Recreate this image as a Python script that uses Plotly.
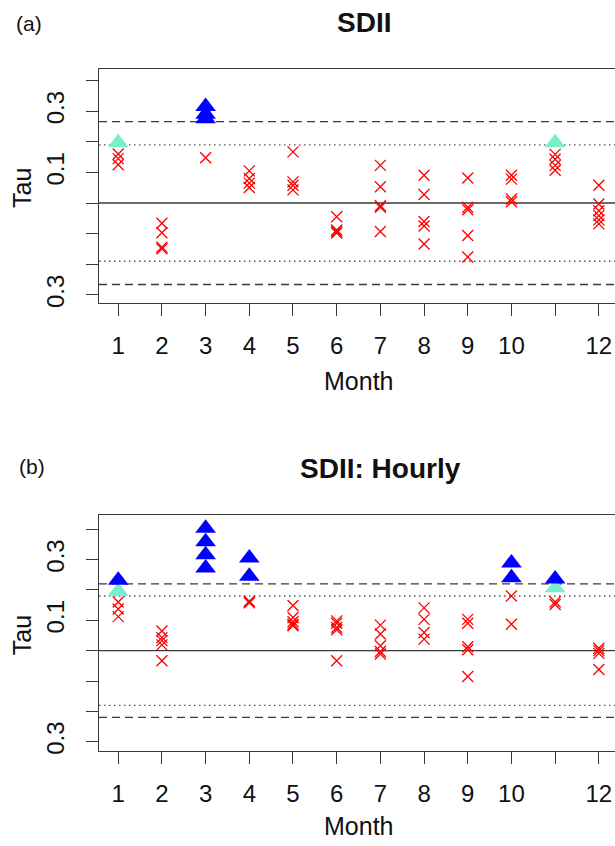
import plotly.graph_objects as go

# ---------------- data ----------------
months = list(range(1, 13))
month_labels = ["1", "2", "3", "4", "5", "6", "7", "8", "9", "10", "", "12"]
tau_ticks = [-0.3, -0.2, -0.1, 0.0, 0.1, 0.2, 0.3, 0.4]
tau_tick_labels = ["0.3", "", "", "", "0.1", "", "0.3", ""]

# Panel (a) SDII
sdii_ns_month = [1, 1, 1,
                 2, 2, 2, 2,
                 3,
                 4, 4, 4, 4,
                 5, 5, 5, 5,
                 6, 6, 6, 6,
                 7, 7, 7, 7, 7,
                 8, 8, 8, 8, 8,
                 9, 9, 9, 9, 9,
                 10, 10, 10, 10,
                 11, 11, 11, 11,
                 12, 12, 12, 12, 12, 12]
sdii_ns_tau = [0.160, 0.145, 0.125,
               -0.066, -0.097, -0.144, -0.149,
               0.148,
               0.105, 0.080, 0.065, 0.051,
               0.167, 0.069, 0.058, 0.043,
               -0.045, -0.088, -0.094, -0.098,
               0.123, 0.053, -0.009, -0.014, -0.093,
               0.091, 0.028, -0.060, -0.075, -0.134,
               0.082, -0.014, -0.022, -0.106, -0.176,
               0.091, 0.078, 0.013, 0.004,
               0.159, 0.143, 0.123, 0.107,
               0.058, -0.003, -0.025, -0.041, -0.055, -0.068]
sdii_sig90_month = [1, 11]
sdii_sig90_tau = [0.197, 0.197]
sdii_sig95_month = [3, 3, 3]
sdii_sig95_tau = [0.315, 0.290, 0.275]
sdii_dash = 0.266
sdii_dot = 0.190

# Panel (b) SDII: Hourly
hourly_ns_month = [1, 1, 1,
                   2, 2, 2, 2, 2,
                   4, 4,
                   5, 5, 5, 5, 5,
                   6, 6, 6, 6, 6,
                   7, 7, 7, 7, 7,
                   8, 8, 8, 8,
                   9, 9, 9, 9, 9,
                   10, 10,
                   11, 11,
                   12, 12, 12, 12]
hourly_ns_tau = [0.160, 0.137, 0.112,
                 0.065, 0.043, 0.033, 0.019, -0.033,
                 0.163, 0.158,
                 0.149, 0.109, 0.095, 0.087, 0.082,
                 0.098, 0.090, 0.076, 0.069, -0.033,
                 0.084, 0.055, 0.016, -0.003, -0.011,
                 0.141, 0.103, 0.060, 0.038,
                 0.103, 0.090, 0.013, 0.003, -0.085,
                 0.180, 0.087,
                 0.160, 0.152,
                 0.008, 0.000, -0.009, -0.062]
hourly_sig90_month = [1, 11]
hourly_sig90_tau = [0.196, 0.207]
hourly_sig95_month = [1, 3, 3, 3, 3, 4, 4, 10, 10, 11]
hourly_sig95_tau = [0.232, 0.403, 0.359, 0.316, 0.272, 0.305, 0.245, 0.289, 0.240, 0.236]
hourly_dash = 0.220
hourly_dot = 0.180

# ---------------- figure ----------------
W, H = 615, 846
FONT = "Liberation Sans, Arial, Helvetica, sans-serif"
AXC = "#3a3a3a"
RED = "#FF0000"
BLUE = "#0000FF"
AQUA = "#78EECB"

fig = go.Figure()

panels = [
    dict(x="x", y="y", ns=(sdii_ns_month, sdii_ns_tau), s90=(sdii_sig90_month, sdii_sig90_tau),
         s95=(sdii_sig95_month, sdii_sig95_tau), dash=sdii_dash, dot=sdii_dot),
    dict(x="x2", y="y2", ns=(hourly_ns_month, hourly_ns_tau), s90=(hourly_sig90_month, hourly_sig90_tau),
         s95=(hourly_sig95_month, hourly_sig95_tau), dash=hourly_dash, dot=hourly_dot),
]

for p in panels:
    fig.add_trace(go.Scatter(x=p["ns"][0], y=p["ns"][1], xaxis=p["x"], yaxis=p["y"], mode="markers",
                             marker=dict(symbol="x-thin", size=11, line=dict(color=RED, width=1.3)),
                             showlegend=False, hoverinfo="skip"))
    fig.add_trace(go.Scatter(x=p["s90"][0], y=p["s90"][1], xaxis=p["x"], yaxis=p["y"], mode="markers",
                             marker=dict(symbol="triangle-up", size=18, color=AQUA, line=dict(width=0)),
                             showlegend=False, hoverinfo="skip"))
    fig.add_trace(go.Scatter(x=p["s95"][0], y=p["s95"][1], xaxis=p["x"], yaxis=p["y"], mode="markers",
                             marker=dict(symbol="triangle-up", size=18, color=BLUE, line=dict(width=0)),
                             showlegend=False, hoverinfo="skip"))
    xd = p["x"] + " domain"
    fig.add_shape(type="line", xref=xd, yref=p["y"], x0=0, x1=1, y0=0, y1=0,
                  line=dict(color=AXC, width=1.4), layer="below")
    for v in (p["dash"], -p["dash"]):
        fig.add_shape(type="line", xref=xd, yref=p["y"], x0=0, x1=1, y0=v, y1=v,
                      line=dict(color=AXC, width=1.3, dash="8px,5px"), layer="below")
    for v in (p["dot"], -p["dot"]):
        fig.add_shape(type="line", xref=xd, yref=p["y"], x0=0, x1=1, y0=v, y1=v,
                      line=dict(color="#555555", width=1.3, dash="1.5px,3.5px"), layer="below")

def px_dom(top, bottom):
    return [1 - bottom / H, 1 - top / H]

xdom = [99 / W, 1.0]
xaxis_common = dict(range=[0.56, 12.37], domain=xdom, tickmode="array", tickvals=months,
                    ticktext=month_labels, showline=True, mirror=True, linecolor=AXC, linewidth=1.4,
                    ticks="outside", ticklen=12, tickwidth=1.3, tickcolor=AXC, showgrid=False,
                    zeroline=False, tickfont=dict(family=FONT, size=24, color="#111"),
                    ticklabelstandoff=9, fixedrange=True)
yaxis_common = dict(tickmode="array", tickvals=tau_ticks, ticktext=tau_tick_labels, showline=True,
                    mirror=False, linecolor=AXC, linewidth=1.4, ticks="outside", ticklen=12,
                    tickwidth=1.3, tickcolor=AXC, showgrid=False, zeroline=False, tickangle=-90,
                    tickfont=dict(family=FONT, size=24, color="#111"), ticklabelstandoff=12,
                    fixedrange=True)

fig.update_layout(
    width=W, height=H, margin=dict(l=0, r=0, t=0, b=0),
    paper_bgcolor="white", plot_bgcolor="white", showlegend=False,
    xaxis=dict(xaxis_common, anchor="y"),
    yaxis=dict(yaxis_common, range=[-0.327, 0.439], domain=px_dom(69, 305), anchor="x"),
    xaxis2=dict(xaxis_common, anchor="y2"),
    yaxis2=dict(yaxis_common, range=[-0.329, 0.448], domain=px_dom(517.7, 755), anchor="x2"),
)

def ann(text, x, y, size, bold=False, angle=0):
    fig.add_annotation(text=("<b>%s</b>" % text) if bold else text, xref="paper", yref="paper",
                       x=x / W, y=1 - y / H, xanchor="center", yanchor="middle", showarrow=False,
                       textangle=angle, font=dict(family=FONT, size=size, color="#111"))

ann("SDII", 364, 23, 28, bold=True)
ann("SDII: Hourly", 380, 471, 28, bold=True)
ann("(a)", 29, 24, 21)
ann("(b)", 32, 469, 21)
ann("Tau", 22, 189, 25, angle=-90)
ann("Tau", 22, 639, 25, angle=-90)
ann("Month", 358, 383, 25)
ann("Month", 358, 831, 25)

fig.write_html("out.html")
